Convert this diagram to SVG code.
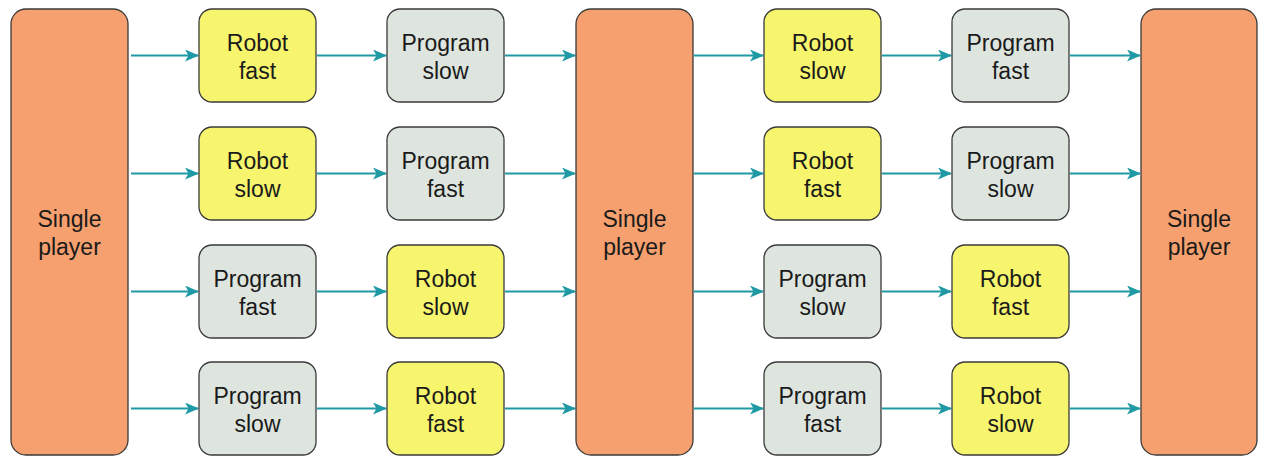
<svg xmlns="http://www.w3.org/2000/svg" width="1269" height="459" viewBox="0 0 1269 459">
<style>
.n rect{stroke:#3a3a3a;stroke-width:1.3}
.big rect{fill:#F5A06E}
.rob rect{fill:#F7F56E}
.prg rect{fill:#DEE5DF}
text{font-family:"Liberation Sans",Arial,sans-serif;font-size:23px;fill:#1a1a1a;text-anchor:middle}
#connectors line{stroke:#1F9AA5;stroke-width:2;marker-end:url(#ah)}
</style>
<defs>
<marker id="ah" viewBox="0 0 14 12" refX="13" refY="6" markerWidth="14" markerHeight="12" markerUnits="userSpaceOnUse" orient="auto">
<path d="M0,0 L14,6 L0,12 L3.5,6 Z" fill="#1F9AA5"/>
</marker>
</defs>
<rect width="1269" height="459" fill="#fff"/>
<g id="connectors">
<line x1="131" y1="55.5" x2="198" y2="55.5"/>
<line x1="317" y1="55.5" x2="386" y2="55.5"/>
<line x1="505" y1="55.5" x2="575" y2="55.5"/>
<line x1="694" y1="55.5" x2="763" y2="55.5"/>
<line x1="882" y1="55.5" x2="951" y2="55.5"/>
<line x1="1070" y1="55.5" x2="1140" y2="55.5"/>
<line x1="131" y1="173.5" x2="198" y2="173.5"/>
<line x1="317" y1="173.5" x2="386" y2="173.5"/>
<line x1="505" y1="173.5" x2="575" y2="173.5"/>
<line x1="694" y1="173.5" x2="763" y2="173.5"/>
<line x1="882" y1="173.5" x2="951" y2="173.5"/>
<line x1="1070" y1="173.5" x2="1140" y2="173.5"/>
<line x1="131" y1="291.5" x2="198" y2="291.5"/>
<line x1="317" y1="291.5" x2="386" y2="291.5"/>
<line x1="505" y1="291.5" x2="575" y2="291.5"/>
<line x1="694" y1="291.5" x2="763" y2="291.5"/>
<line x1="882" y1="291.5" x2="951" y2="291.5"/>
<line x1="1070" y1="291.5" x2="1140" y2="291.5"/>
<line x1="131" y1="408.5" x2="198" y2="408.5"/>
<line x1="317" y1="408.5" x2="386" y2="408.5"/>
<line x1="505" y1="408.5" x2="575" y2="408.5"/>
<line x1="694" y1="408.5" x2="763" y2="408.5"/>
<line x1="882" y1="408.5" x2="951" y2="408.5"/>
<line x1="1070" y1="408.5" x2="1140" y2="408.5"/>
</g>
<g id="sp1" class="n big"><rect x="11" y="9" width="117" height="446" rx="15"/><text x="69.5" y="227">Single</text><text x="69.5" y="255">player</text></g>
<g id="sp2" class="n big"><rect x="576" y="9" width="117" height="446" rx="15"/><text x="634.5" y="227">Single</text><text x="634.5" y="255">player</text></g>
<g id="sp3" class="n big"><rect x="1141" y="9" width="116" height="446" rx="15"/><text x="1199" y="227">Single</text><text x="1199" y="255">player</text></g>

<g id="r1c1" class="n rob"><rect x="199" y="9" width="117" height="93" rx="13"/><text x="257.5" y="51">Robot</text><text x="257.5" y="79">fast</text></g>
<g id="r1c2" class="n prg"><rect x="387" y="9" width="117" height="93" rx="13"/><text x="445.5" y="51">Program</text><text x="445.5" y="79">slow</text></g>
<g id="r1c3" class="n rob"><rect x="764" y="9" width="117" height="93" rx="13"/><text x="822.5" y="51">Robot</text><text x="822.5" y="79">slow</text></g>
<g id="r1c4" class="n prg"><rect x="952" y="9" width="117" height="93" rx="13"/><text x="1010.5" y="51">Program</text><text x="1010.5" y="79">fast</text></g>

<g id="r2c1" class="n rob"><rect x="199" y="127" width="117" height="93" rx="13"/><text x="257.5" y="169">Robot</text><text x="257.5" y="197">slow</text></g>
<g id="r2c2" class="n prg"><rect x="387" y="127" width="117" height="93" rx="13"/><text x="445.5" y="169">Program</text><text x="445.5" y="197">fast</text></g>
<g id="r2c3" class="n rob"><rect x="764" y="127" width="117" height="93" rx="13"/><text x="822.5" y="169">Robot</text><text x="822.5" y="197">fast</text></g>
<g id="r2c4" class="n prg"><rect x="952" y="127" width="117" height="93" rx="13"/><text x="1010.5" y="169">Program</text><text x="1010.5" y="197">slow</text></g>

<g id="r3c1" class="n prg"><rect x="199" y="245" width="117" height="93" rx="13"/><text x="257.5" y="287">Program</text><text x="257.5" y="315">fast</text></g>
<g id="r3c2" class="n rob"><rect x="387" y="245" width="117" height="93" rx="13"/><text x="445.5" y="287">Robot</text><text x="445.5" y="315">slow</text></g>
<g id="r3c3" class="n prg"><rect x="764" y="245" width="117" height="93" rx="13"/><text x="822.5" y="287">Program</text><text x="822.5" y="315">slow</text></g>
<g id="r3c4" class="n rob"><rect x="952" y="245" width="117" height="93" rx="13"/><text x="1010.5" y="287">Robot</text><text x="1010.5" y="315">fast</text></g>

<g id="r4c1" class="n prg"><rect x="199" y="362" width="117" height="93" rx="13"/><text x="257.5" y="404">Program</text><text x="257.5" y="432">slow</text></g>
<g id="r4c2" class="n rob"><rect x="387" y="362" width="117" height="93" rx="13"/><text x="445.5" y="404">Robot</text><text x="445.5" y="432">fast</text></g>
<g id="r4c3" class="n prg"><rect x="764" y="362" width="117" height="93" rx="13"/><text x="822.5" y="404">Program</text><text x="822.5" y="432">fast</text></g>
<g id="r4c4" class="n rob"><rect x="952" y="362" width="117" height="93" rx="13"/><text x="1010.5" y="404">Robot</text><text x="1010.5" y="432">slow</text></g>
</svg>
